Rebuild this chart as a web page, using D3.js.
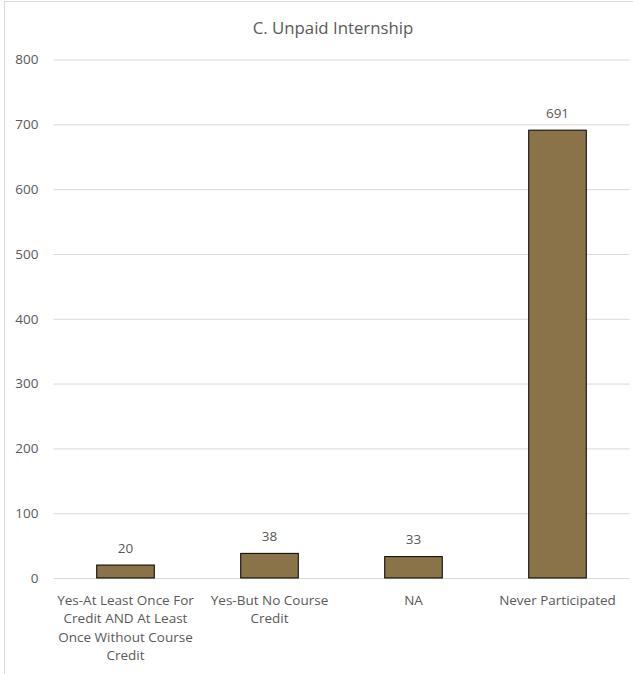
<!DOCTYPE html>
<html><head><meta charset="utf-8">
<script src="https://cdn.jsdelivr.net/npm/d3@7"></script>
<style>
html,body{margin:0;padding:0;background:#fff;}
svg{display:block;}
text{font-family:"Open Sans",sans-serif;fill:#595959;}
</style></head>
<body>
<svg id="chart" width="633" height="674"></svg>
<script>
const title = "C. Unpaid Internship";
const categories = [
  ["Yes-At Least Once For","Credit AND At Least","Once Without Course","Credit"],
  ["Yes-But No Course","Credit"],
  ["NA"],
  ["Never Participated"]
];
const categoryKeys = ["Yes-At Least Once For Credit AND At Least Once Without Course Credit","Yes-But No Course Credit","NA","Never Participated"];
const values = [20, 38, 33, 691];
const yTicks = [0,100,200,300,400,500,600,700,800];

const svg = d3.select("#chart");
const W = 633, H = 674;
const mLeft = 53.5, mRight = 629.5, mTop = 59.5, mBottom = 578;

// outer chart border
svg.append("rect").attr("x",4.5).attr("y",1.5).attr("width",W+10).attr("height",H+10)
  .attr("fill","none").attr("stroke","#d9d9d9").attr("stroke-width",1);

const x = d3.scaleBand().domain(categoryKeys).range([mLeft,mRight]).paddingInner(0.6).paddingOuter(0.3);
const y = d3.scaleLinear().domain([0,800]).range([mBottom,mTop]);

// gridlines
const yAxis = d3.axisLeft(y).tickValues(yTicks).tickSize(-(mRight-mLeft)).tickPadding(15).tickFormat(d3.format("d"));
const gy = svg.append("g").attr("transform",`translate(${mLeft},0)`).call(yAxis);
gy.select(".domain").remove();
gy.selectAll(".tick line").attr("stroke","#d9d9d9").attr("stroke-width",1);
gy.selectAll(".tick text").attr("font-size","13.5px").attr("fill","#595959").attr("font-family","Open Sans");

// bars
svg.append("g").selectAll("rect").data(values).join("rect")
  .attr("x",(d,i)=>x(categoryKeys[i]))
  .attr("y",d=>y(d))
  .attr("width",x.bandwidth())
  .attr("height",d=>y(0)-y(d))
  .attr("fill","#8b7349").attr("stroke","#000").attr("stroke-width",1);

// value labels
svg.append("g").selectAll("text").data(values).join("text")
  .attr("x",(d,i)=>x(categoryKeys[i])+x.bandwidth()/2)
  .attr("y",d=>y(d)-12.5)
  .attr("text-anchor","middle").attr("font-size","13.5px")
  .text(d=>d);

// x axis category labels
const gx = svg.append("g");
categories.forEach((lines,i)=>{
  const cx = x(categoryKeys[i])+x.bandwidth()/2;
  const t = gx.append("text").attr("x",cx).attr("y",604.5)
    .attr("text-anchor","middle").attr("font-size","13.5px");
  lines.forEach((ln,j)=>{
    t.append("tspan").attr("x",cx).attr("y",604.5+j*18.5).text(ln);
  });
});

// title
svg.append("text").attr("x",333).attr("y",34).attr("text-anchor","middle").attr("font-size","16.8px").text(title);
</script>
</body></html>
